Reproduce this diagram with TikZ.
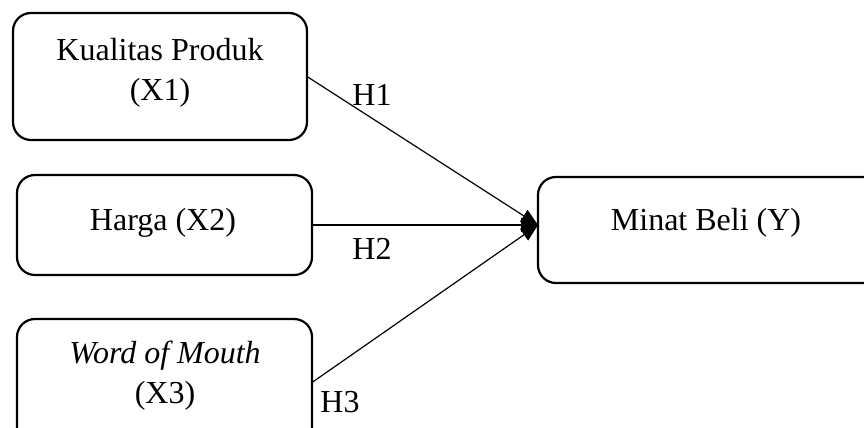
\documentclass[tikz,border=0pt]{standalone}
\usepackage{fontspec}
\setmainfont{Liberation Serif}
\usetikzlibrary{arrows.meta}
\tikzset{
  varbox/.style={draw, line width=1.1pt, rounded corners=9pt, inner sep=0pt, outer sep=0pt},
  txt/.style={font=\fontsize{16}{20}\selectfont, align=center, inner sep=0pt},
  hlab/.style={font=\fontsize{16}{20}\selectfont, inner sep=0pt, anchor=base},
  conn/.style={line width=0.6pt, -{Triangle[length=8.5pt,width=7pt]}}
}
\begin{document}
\begin{tikzpicture}[x=0.5pt,y=-0.5pt]
\useasboundingbox (0,0) rectangle (864,428);
\clip (0,0) rectangle (864,428);
% boxes
\node[varbox, minimum width=147pt, minimum height=63.5pt] (x1) at (160,76.5) {};
\node[varbox, minimum width=147.5pt, minimum height=50pt] (x2) at (164.5,225) {};
\node[varbox, minimum width=147.5pt, minimum height=63.5pt] (x3) at (164.5,382.5) {};
\node[varbox, minimum width=180pt, minimum height=53pt] (y) at (718,230) {};
% texts
\node[txt] (x1t) at (160,73) {Kualitas Produk\\(X1)};
\node[hlab] (x2t) at (163,230) {Harga (X2)};
\node[txt] (x3t) at (165,376) {\textit{Word of Mouth}\\(X3)};
\node[hlab] (yt) at (706,230) {Minat Beli (Y)};
% target point
\coordinate (tgt) at ([yshift=2.5pt]y.west);
% connectors
\draw[conn] (x1.east) -- (tgt);
\draw[conn] (x2.east) -- (tgt);
\draw[conn] (x3.east) -- (tgt);
% labels
\node[hlab] (h1) at (372,105) {H1};
\node[hlab] (h2) at (372,259) {H2};
\node[hlab] (h3) at (340,412) {H3};
\end{tikzpicture}
\end{document}
